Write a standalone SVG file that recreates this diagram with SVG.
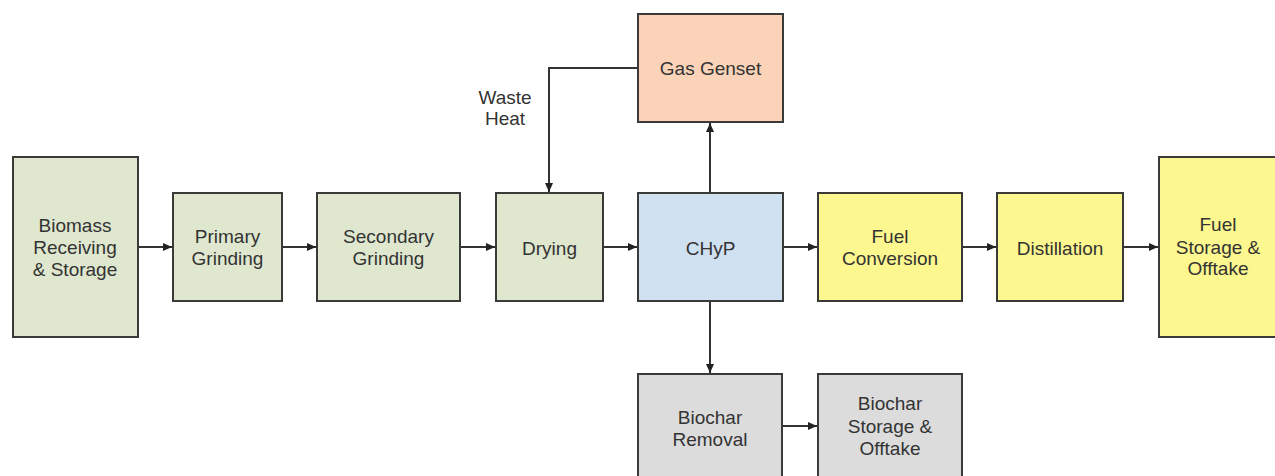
<svg xmlns="http://www.w3.org/2000/svg" width="1275" height="476" viewBox="0 0 1275 476">
<style>
.box{stroke:#3a3a38;stroke-width:2}
.g{fill:#dfe7cf}.o{fill:#fad3b8}.b{fill:#cfe0f1}.y{fill:#fdf78f}.k{fill:#dcdcdc}
text{font-family:"Liberation Sans",Arial,sans-serif;font-size:19px;fill:#333333;text-anchor:middle}
.c{fill:none;stroke:#333;stroke-width:2}
</style>
<defs>
<marker id="ah" markerWidth="10" markerHeight="10" refX="9" refY="5" orient="auto" markerUnits="userSpaceOnUse">
<path d="M0,1 L9,5 L0,9 Z" fill="#222"/>
</marker>
</defs>
<rect width="1275" height="476" fill="#ffffff"/>
<g id="connectors">
<line class="c" x1="138" y1="247" x2="172" y2="247" marker-end="url(#ah)"/>
<line class="c" x1="282" y1="247" x2="316" y2="247" marker-end="url(#ah)"/>
<line class="c" x1="460" y1="247" x2="495" y2="247" marker-end="url(#ah)"/>
<line class="c" x1="603" y1="247" x2="637" y2="247" marker-end="url(#ah)"/>
<line class="c" x1="783" y1="247" x2="817" y2="247" marker-end="url(#ah)"/>
<line class="c" x1="962" y1="247" x2="996" y2="247" marker-end="url(#ah)"/>
<line class="c" x1="1123" y1="247" x2="1158" y2="247" marker-end="url(#ah)"/>
<line class="c" x1="710" y1="193" x2="710" y2="123" marker-end="url(#ah)"/>
<line class="c" x1="710" y1="301" x2="710" y2="373" marker-end="url(#ah)"/>
<line class="c" x1="782" y1="426" x2="817" y2="426" marker-end="url(#ah)"/>
<polyline class="c" points="638,68 549,68 549,192" marker-end="url(#ah)"/>
<text x="505" y="104">Waste</text>
<text x="505" y="125">Heat</text>
</g>
<g id="biomass">
<rect class="box g" x="13" y="157" width="125" height="180"/>
<text x="75" y="232">Biomass</text><text x="75" y="254">Receiving</text><text x="75" y="276">&amp; Storage</text>
</g>
<g id="primary">
<rect class="box g" x="173" y="193" width="109" height="108"/>
<text x="227.5" y="243">Primary</text><text x="227.5" y="265">Grinding</text>
</g>
<g id="secondary">
<rect class="box g" x="317" y="193" width="143" height="108"/>
<text x="388.5" y="243">Secondary</text><text x="388.5" y="265">Grinding</text>
</g>
<g id="drying">
<rect class="box g" x="496" y="193" width="107" height="108"/>
<text x="549.5" y="255">Drying</text>
</g>
<g id="genset">
<rect class="box o" x="638" y="14" width="145" height="108"/>
<text x="710.5" y="75">Gas Genset</text>
</g>
<g id="chyp">
<rect class="box b" x="638" y="193" width="145" height="108"/>
<text x="710.5" y="255">CHyP</text>
</g>
<g id="fuelconv">
<rect class="box y" x="818" y="193" width="144" height="108"/>
<text x="890" y="243">Fuel</text><text x="890" y="265">Conversion</text>
</g>
<g id="distillation">
<rect class="box y" x="997" y="193" width="126" height="108"/>
<text x="1060" y="255">Distillation</text>
</g>
<g id="fuelstorage">
<rect class="box y" x="1159" y="157" width="128" height="180"/>
<text x="1218" y="231">Fuel</text><text x="1218" y="254">Storage &amp;</text><text x="1218" y="275">Offtake</text>
</g>
<g id="biocharremoval">
<rect class="box k" x="638" y="374" width="144" height="110"/>
<text x="710" y="424">Biochar</text><text x="710" y="446">Removal</text>
</g>
<g id="biocharstorage">
<rect class="box k" x="818" y="374" width="144" height="110"/>
<text x="890" y="410">Biochar</text><text x="890" y="433">Storage &amp;</text><text x="890" y="455">Offtake</text>
</g>
</svg>
